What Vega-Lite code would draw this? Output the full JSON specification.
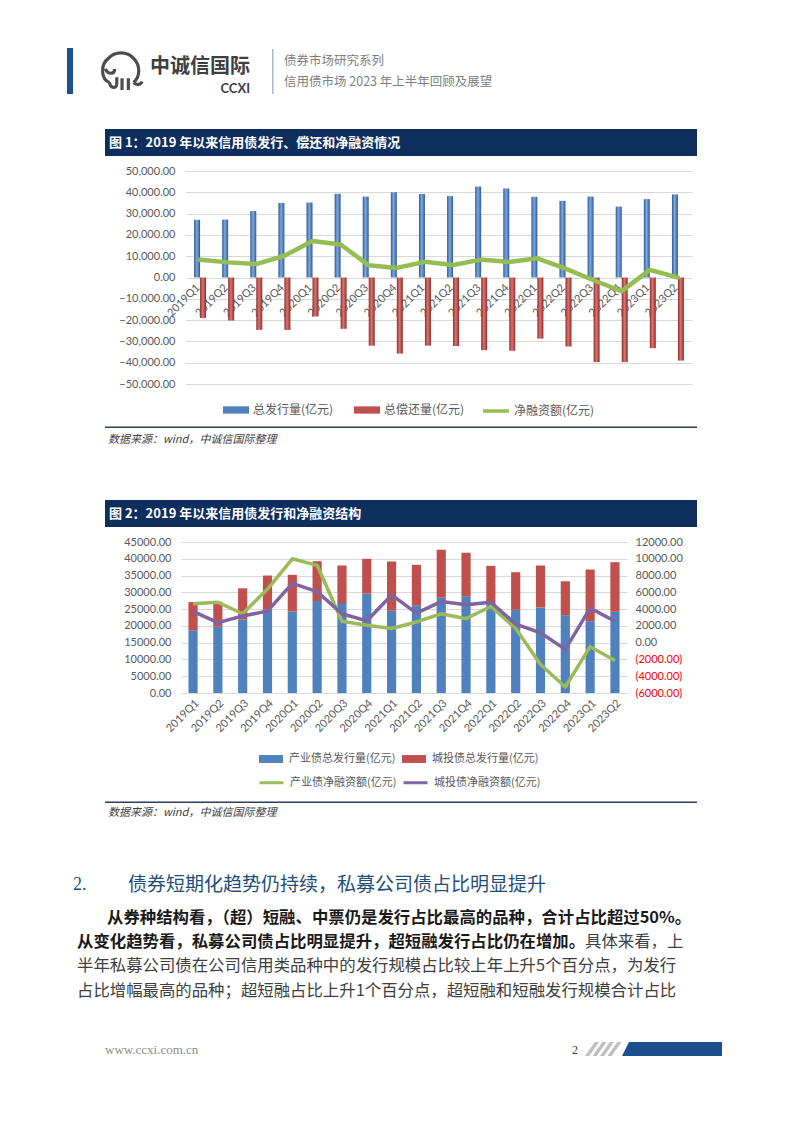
{
  "$schema": "https://vega.github.io/schema/vega-lite/v6.json",
  "background": "white",
  "padding": {"left": 67, "top": 46, "right": 0, "bottom": 0},
  "config": {
    "view": {"stroke": null},
    "font": "Noto Sans CJK SC",
    "axis": {"labelFont": "Lato", "labelColor": "#595959", "labelFontSize": 11, "titleFont": "Lato", "labelOverlap": false},
    "legend": {"labelFont": "Noto Sans CJK SC", "labelColor": "#595959"}
  },
  "datasets": {
    "c1": [
      {"q": "2019Q1", "总发行量(亿元)": 27100, "总偿还量(亿元)": -19000, "净融资额(亿元)": 8300},
      {"q": "2019Q2", "总发行量(亿元)": 27200, "总偿还量(亿元)": -20200, "净融资额(亿元)": 7100},
      {"q": "2019Q3", "总发行量(亿元)": 31200, "总偿还量(亿元)": -24600, "净融资额(亿元)": 6300},
      {"q": "2019Q4", "总发行量(亿元)": 35000, "总偿还量(亿元)": -24600, "净融资额(亿元)": 10200},
      {"q": "2020Q1", "总发行量(亿元)": 35200, "总偿还量(亿元)": -18300, "净融资额(亿元)": 17100},
      {"q": "2020Q2", "总发行量(亿元)": 39300, "总偿还量(亿元)": -24100, "净融资额(亿元)": 15500},
      {"q": "2020Q3", "总发行量(亿元)": 38000, "总偿还量(亿元)": -32000, "净融资额(亿元)": 5700},
      {"q": "2020Q4", "总发行量(亿元)": 40000, "总偿还量(亿元)": -35700, "净融资额(亿元)": 4500},
      {"q": "2021Q1", "总发行量(亿元)": 39200, "总偿还量(亿元)": -32000, "净融资额(亿元)": 7400},
      {"q": "2021Q2", "总发行量(亿元)": 38200, "总偿还量(亿元)": -32200, "净融资额(亿元)": 5900},
      {"q": "2021Q3", "总发行量(亿元)": 42700, "总偿还量(亿元)": -34100, "净融资额(亿元)": 8400},
      {"q": "2021Q4", "总发行量(亿元)": 41800, "总偿还量(亿元)": -34400, "净融资额(亿元)": 7300},
      {"q": "2022Q1", "总发行量(亿元)": 37900, "总偿还量(亿元)": -28700, "净融资额(亿元)": 9000},
      {"q": "2022Q2", "总发行量(亿元)": 36000, "总偿还量(亿元)": -32400, "净融资额(亿元)": 4200},
      {"q": "2022Q3", "总发行量(亿元)": 38000, "总偿还量(亿元)": -39700, "净融资额(亿元)": -1300},
      {"q": "2022Q4", "总发行量(亿元)": 33300, "总偿还量(亿元)": -39700, "净融资额(亿元)": -6400},
      {"q": "2023Q1", "总发行量(亿元)": 36800, "总偿还量(亿元)": -33200, "净融资额(亿元)": 3600},
      {"q": "2023Q2", "总发行量(亿元)": 39000, "总偿还量(亿元)": -39000, "净融资额(亿元)": 0}
    ],
    "c2": [
      {"q": "2019Q1", "产业债总发行量(亿元)": 18700, "城投债总发行量(亿元)": 8400, "产业债净融资额(亿元)": 4630, "城投债净融资额(亿元)": 3730},
      {"q": "2019Q2", "产业债总发行量(亿元)": 19900, "城投债总发行量(亿元)": 7300, "产业债净融资额(亿元)": 4820, "城投债净融资额(亿元)": 2390},
      {"q": "2019Q3", "产业债总发行量(亿元)": 21900, "城投债总发行量(亿元)": 9300, "产业债净融资额(亿元)": 3450, "城投债净融资额(亿元)": 3180},
      {"q": "2019Q4", "产业债总发行量(亿元)": 24800, "城投债总发行量(亿元)": 10200, "产业债净融资额(亿元)": 6390, "城投债净融资额(亿元)": 3760},
      {"q": "2020Q1", "产业债总发行量(亿元)": 24300, "城投债总发行量(亿元)": 10900, "产业债净融资额(亿元)": 10000, "城投债净融资额(亿元)": 7060},
      {"q": "2020Q2", "产业债总发行量(亿元)": 27400, "城投债总发行量(亿元)": 11900, "产业债净融资额(亿元)": 9220, "城投债净融资额(亿元)": 6080},
      {"q": "2020Q3", "产业债总发行量(亿元)": 26800, "城投债总发行量(亿元)": 11200, "产业债净融资额(亿元)": 2550, "城投债净融资额(亿元)": 3450},
      {"q": "2020Q4", "产业债总发行量(亿元)": 29600, "城投债总发行量(亿元)": 10400, "产业债净融资额(亿元)": 2080, "城投债净融资额(亿元)": 2590},
      {"q": "2021Q1", "产业债总发行量(亿元)": 24500, "城投债总发行量(亿元)": 14700, "产业债净融资额(亿元)": 1690, "城投债净融资额(亿元)": 5690},
      {"q": "2021Q2", "产业债总发行量(亿元)": 26000, "城投债总发行量(亿元)": 12200, "产业债净融资额(亿元)": 2470, "城投债净融资额(亿元)": 3530},
      {"q": "2021Q3", "产业债总发行量(亿元)": 28500, "城投债总发行量(亿元)": 14200, "产业债净融资额(亿元)": 3450, "城投债净融资额(亿元)": 4900},
      {"q": "2021Q4", "产业债总发行量(亿元)": 28800, "城投债总发行量(亿元)": 13000, "产业债净融资额(亿元)": 2860, "城投债净融资额(亿元)": 4510},
      {"q": "2022Q1", "产业债总发行量(亿元)": 26800, "城投债总发行量(亿元)": 11100, "产业债净融资额(亿元)": 4310, "城投债净融资额(亿元)": 4820},
      {"q": "2022Q2", "产业债总发行量(亿元)": 24800, "城投债总发行量(亿元)": 11200, "产业债净融资额(亿元)": 1690, "城投债净融资额(亿元)": 2200},
      {"q": "2022Q3", "产业债总发行量(亿元)": 25500, "城投债总发行量(亿元)": 12500, "产业债净融资额(亿元)": -2600, "城投债净融资额(亿元)": 1180},
      {"q": "2022Q4", "产业债总发行量(亿元)": 23200, "城投债总发行量(亿元)": 10100, "产业债净融资额(亿元)": -5280, "城投债净融资额(亿元)": -800},
      {"q": "2023Q1", "产业债总发行量(亿元)": 21400, "城投债总发行量(亿元)": 15400, "产业债净融资额(亿元)": -480, "城投债净融资额(亿元)": 4120},
      {"q": "2023Q2", "产业债总发行量(亿元)": 24200, "城投债总发行量(亿元)": 14800, "产业债净融资额(亿元)": -2120, "城投债净融资额(亿元)": 2550}
    ]
  },
  "concat": [
    {
      "width": 511,
      "height": 213,
      "data": {"name": "c1"},
      "layer": [
        {
          "transform": [{"fold": ["总发行量(亿元)", "总偿还量(亿元)"], "as": ["s", "v"]}],
          "mark": {"type": "bar"},
          "encoding": {
            "x": {"field": "q", "type": "nominal", "sort": null,
              "scale": {"paddingInner": 0.573, "paddingOuter": 0.287, "range": [5, 511]},
              "axis": {"title": null, "labelAngle": -45, "offset": -106.5, "domain": false, "ticks": false, "grid": false, "labelPadding": 4, "labelOffset": -6, "labelFontSize": 11}},
            "xOffset": {"field": "s", "type": "nominal", "sort": null, "scale": {"domain": ["总发行量(亿元)", "总偿还量(亿元)"], "paddingInner": 0, "paddingOuter": 0}},
            "y": {"field": "v", "type": "quantitative",
              "scale": {"domain": [-50000, 50000], "nice": false, "zero": false},
              "axis": {"title": null, "values": [-50000, -40000, -30000, -20000, -10000, 0, 10000, 20000, 30000, 40000, 50000], "format": ",.2f", "domain": false, "ticks": false, "gridColor": "#d9d9d9", "labelPadding": 6, "labelOverlap": false}},
            "color": {
              "condition": [
                {"test": "datum.s === '总发行量(亿元)'", "value": {"gradient": "linear", "x1": 0, "y1": 0, "x2": 1, "y2": 0, "stops": [{"offset": 0, "color": "#2b5a94"}, {"offset": 0.45, "color": "#7fa9dd"}, {"offset": 1, "color": "#2b5a94"}]}},
                {"test": "datum.s === '总偿还量(亿元)'", "value": {"gradient": "linear", "x1": 0, "y1": 0, "x2": 1, "y2": 0, "stops": [{"offset": 0, "color": "#8b2d2b"}, {"offset": 0.45, "color": "#de7370"}, {"offset": 1, "color": "#8b2d2b"}]}}
              ],
              "field": "s", "type": "nominal",
              "scale": {"domain": ["总发行量(亿元)", "总偿还量(亿元)"], "range": ["#4F81BD", "#C0504D"]},
              "legend": {"orient": "none", "legendX": 41, "legendY": 225, "direction": "horizontal", "title": null,
                "symbolType": "M-1,-0.28H1V0.28H-1Z", "symbolSize": 676, "labelFontSize": 12, "columnPadding": 19, "labelOffset": 3}
            }
          }
        },
        {
          "transform": [{"fold": ["净融资额(亿元)"], "as": ["s3", "v3"]}],
          "mark": {"type": "line", "strokeWidth": 4.5, "strokeJoin": "round", "strokeCap": "round"},
          "encoding": {
            "x": {"field": "q", "type": "nominal", "sort": null},
            "y": {"field": "v3", "type": "quantitative",
              "axis": {"title": null, "values": [-50000, -40000, -30000, -20000, -10000, 0, 10000, 20000, 30000, 40000, 50000], "format": ",.2f", "domain": false, "ticks": false, "gridColor": "#d9d9d9", "labelPadding": 6, "labelOverlap": false}},
            "stroke": {"field": "s3", "type": "nominal", "scale": {"domain": ["净融资额(亿元)"], "range": ["#94BE52"]},
              "legend": {"orient": "none", "legendX": 300, "legendY": 225, "title": null, "symbolType": "stroke", "symbolSize": 676, "symbolStrokeWidth": 3.5, "labelFontSize": 12, "labelOffset": 3}}
          }
        },
        {"data": {"values": [{}]}, "mark": {"type": "rect", "x": -114, "x2": -113, "y": -123, "y2": 329, "opacity": 0}, "encoding": {}},
        {"data": {"values": [{}]}, "mark": {"type": "rect", "x": -114, "x2": -108, "y": -123, "y2": -77, "color": "#1d4f8f"}, "encoding": {}},
        {"data": {"values": [{}]}, "mark": {"type": "point", "x": -60, "y": -100, "size": 1764, "filled": false, "stroke": "#4d4d4d", "strokeWidth": 3.2, "opacity": 1,
          "shape": "M-0.55,0.55C-0.95,0.4,-1,-0.3,-0.6,-0.6C-0.3,-0.95,0.3,-0.95,0.6,-0.6C0.95,-0.25,0.9,0.3,0.6,0.55M0.6,0.55C0.75,0.7,0.95,0.65,1,0.5M-0.55,0.55C-0.5,0.85,-0.2,0.85,-0.2,0.6L-0.2,0.3M0.05,0.35L0.05,0.9M0.35,0.35L0.35,0.9M-0.75,-0.1C-0.6,0.2,-0.3,0.15,-0.3,-0.1"}, "encoding": {}},
        {"data": {"values": [{}]}, "mark": {"type": "text", "text": "中诚信国际", "x": -31, "y": -104, "align": "left", "baseline": "middle", "fontSize": 20, "fontWeight": "bold", "color": "#404040"}, "encoding": {}},
        {"data": {"values": [{}]}, "mark": {"type": "text", "text": "CCXI", "x": 69, "y": -82, "align": "right", "baseline": "middle", "fontSize": 13, "fontWeight": "bold", "font": "Lato", "color": "#404040"}, "encoding": {}},
        {"data": {"values": [{}]}, "mark": {"type": "rect", "x": 91, "x2": 92.5, "y": -122, "y2": -77, "color": "#a6b8cf"}, "encoding": {}},
        {"data": {"values": [{}]}, "mark": {"type": "text", "text": "债券市场研究系列", "x": 103, "y": -110, "align": "left", "baseline": "middle", "fontSize": 12.5, "color": "#808080"}, "encoding": {}},
        {"data": {"values": [{}]}, "mark": {"type": "text", "text": "信用债市场 2023 年上半年回顾及展望", "x": 103, "y": -89, "align": "left", "baseline": "middle", "fontSize": 12.5, "color": "#808080"}, "encoding": {}},
        {"data": {"values": [{}]}, "mark": {"type": "rect", "x": -76, "x2": 516, "y": -42, "y2": -15, "color": "#0e2f5e"}, "encoding": {}},
        {"data": {"values": [{}]}, "mark": {"type": "text", "text": "图 1：2019 年以来信用债发行、偿还和净融资情况", "x": -72, "y": -28.5, "align": "left", "baseline": "middle", "fontSize": 13, "fontWeight": "bold", "color": "#ffffff"}, "encoding": {}},
        {"data": {"values": [{}]}, "mark": {"type": "rect", "x": -76, "x2": 516, "y": 255.5, "y2": 257, "color": "#2c3e5c"}, "encoding": {}},
        {"data": {"values": [{}]}, "mark": {"type": "text", "text": "数据来源：wind，中诚信国际整理", "x": -73, "y": 269, "align": "left", "baseline": "middle", "fontSize": 11, "fontStyle": "italic", "color": "#404040"}, "encoding": {}}
      ]
    },
    {
      "width": 446,
      "height": 151,
      "data": {"name": "c2"},
      "layer": [
        {
          "transform": [{"fold": ["产业债总发行量(亿元)", "城投债总发行量(亿元)"], "as": ["s", "v"]}],
          "mark": {"type": "bar"},
          "encoding": {
            "x": {"field": "q", "type": "nominal", "sort": null,
              "scale": {"paddingInner": 0.63, "paddingOuter": 0.3},
              "axis": {"title": null, "labelAngle": -45, "domain": false, "ticks": false, "grid": false, "labelPadding": 4, "labelFontSize": 11}},
            "y": {"field": "v", "type": "quantitative", "stack": "zero",
              "scale": {"domain": [0, 45000], "nice": false},
              "axis": {"title": null, "values": [0, 5000, 10000, 15000, 20000, 25000, 30000, 35000, 40000, 45000], "format": ".2f", "domain": false, "ticks": false, "gridColor": "#d9d9d9", "labelPadding": 10}},
            "color": {"field": "s", "type": "nominal",
              "scale": {"domain": ["产业债总发行量(亿元)", "城投债总发行量(亿元)"], "range": ["#4F81BD", "#C0504D"]},
              "legend": {"orient": "none", "legendX": 77, "legendY": 204, "direction": "horizontal", "title": null,
                "symbolType": "M-1,-0.33H1V0.33H-1Z", "symbolSize": 576, "labelFontSize": 11, "columnPadding": 5, "labelOffset": 5}},
            "order": {"field": "s", "sort": "ascending"}
          }
        },
        {
          "transform": [{"fold": ["产业债净融资额(亿元)", "城投债净融资额(亿元)"], "as": ["s2", "v2"]}],
          "mark": {"type": "line", "strokeWidth": 3.5, "strokeJoin": "round"},
          "encoding": {
            "x": {"field": "q", "type": "nominal", "sort": null},
            "y": {"field": "v2", "type": "quantitative",
              "scale": {"domain": [-6000, 12000], "nice": false, "zero": false},
              "axis": {"orient": "right", "title": null, "values": [-6000, -4000, -2000, 0, 2000, 4000, 6000, 8000, 10000, 12000],
                "labelExpr": "datum.value < 0 ? '(' + format(-datum.value, '.2f') + ')' : format(datum.value, '.2f')",
                "labelColor": {"condition": {"test": "datum.value < 0", "value": "#ff0000"}, "value": "#595959"},
                "grid": false, "domain": false, "ticks": false, "labelPadding": 8}},
            "stroke": {"field": "s2", "type": "nominal",
              "scale": {"domain": ["产业债净融资额(亿元)", "城投债净融资额(亿元)"], "range": ["#9BBB59", "#8064A2"]},
              "legend": {"orient": "none", "legendX": 77, "legendY": 227, "direction": "horizontal", "title": null,
                "symbolType": "stroke", "symbolSize": 576, "symbolStrokeWidth": 3, "labelFontSize": 11, "columnPadding": 0, "labelOffset": 5}}
          }
        },
        {"data": {"values": [{}]}, "mark": {"type": "rect", "x": -114, "x2": -113, "y": -42, "y2": -41, "opacity": 0}, "encoding": {}},
        {"data": {"values": [{}]}, "mark": {"type": "rect", "x": -76, "x2": 516, "y": -42, "y2": -15, "color": "#0e2f5e"}, "encoding": {}},
        {"data": {"values": [{}]}, "mark": {"type": "text", "text": "图 2：2019 年以来信用债发行和净融资结构", "x": -72, "y": -28.5, "align": "left", "baseline": "middle", "fontSize": 13, "fontWeight": "bold", "color": "#ffffff"}, "encoding": {}},
        {"data": {"values": [{}]}, "mark": {"type": "rect", "x": -76, "x2": 516, "y": 259.5, "y2": 261, "color": "#2c3e5c"}, "encoding": {}},
        {"data": {"values": [{}]}, "mark": {"type": "text", "text": "数据来源：wind，中诚信国际整理", "x": -73, "y": 271, "align": "left", "baseline": "middle", "fontSize": 11, "fontStyle": "italic", "color": "#404040"}, "encoding": {}},
        {"data": {"values": [{}]}, "mark": {"type": "text", "text": "2.", "x": -108, "y": 343, "align": "left", "baseline": "middle", "fontSize": 18, "font": "Liberation Serif", "color": "#1f4e79"}, "encoding": {}},
        {"data": {"values": [{}]}, "mark": {"type": "text", "text": "债券短期化趋势仍持续，私募公司债占比明显提升", "x": -53, "y": 343, "align": "left", "baseline": "middle", "fontSize": 19, "color": "#1f4e79"}, "encoding": {}},
        {"data": {"values": [{}]}, "mark": {"type": "text", "text": "从券种结构看，（超）短融、中票仍是发行占比最高的品种，合计占比超过50%。", "x": -74, "y": 376, "align": "left", "baseline": "middle", "fontSize": 16.4, "fontWeight": "bold", "color": "#1a1a1a"}, "encoding": {}},
        {"data": {"values": [{}]}, "mark": {"type": "text", "text": "从变化趋势看，私募公司债占比明显提升，超短融发行占比仍在增加。", "x": -104, "y": 400, "align": "left", "baseline": "middle", "fontSize": 16.4, "fontWeight": "bold", "color": "#1a1a1a"}, "encoding": {}},
        {"data": {"values": [{}]}, "mark": {"type": "text", "text": "具体来看，上", "x": 404, "y": 400, "align": "left", "baseline": "middle", "fontSize": 16.4, "color": "#404040"}, "encoding": {}},
        {"data": {"values": [{}]}, "mark": {"type": "text", "text": "半年私募公司债在公司信用类品种中的发行规模占比较上年上升5个百分点，为发行", "x": -104, "y": 424, "align": "left", "baseline": "middle", "fontSize": 16.4, "color": "#404040"}, "encoding": {}},
        {"data": {"values": [{}]}, "mark": {"type": "text", "text": "占比增幅最高的品种；超短融占比上升1个百分点，超短融和短融发行规模合计占比", "x": -104, "y": 449, "align": "left", "baseline": "middle", "fontSize": 16.4, "color": "#404040"}, "encoding": {}},
        {"data": {"values": [{}]}, "mark": {"type": "text", "text": "www.ccxi.com.cn", "x": -76, "y": 508, "align": "left", "baseline": "middle", "fontSize": 13, "font": "Liberation Serif", "color": "#8c8c8c"}, "encoding": {}},
        {"data": {"values": [{}]}, "mark": {"type": "text", "text": "2", "x": 391, "y": 508, "align": "left", "baseline": "middle", "fontSize": 12, "font": "Liberation Serif", "color": "#404040"}, "encoding": {}},
        {"data": {"values": [{}]}, "mark": {"type": "point", "x": 411, "y": 507, "size": 196, "filled": true, "color": "#bfbfbf", "opacity": 1, "strokeWidth": 0, "shape": "M-1,1L-0.4,1L1,-1L0.4,-1Z"}, "encoding": {}},
        {"data": {"values": [{}]}, "mark": {"type": "point", "x": 418.5, "y": 507, "size": 196, "filled": true, "color": "#bfbfbf", "opacity": 1, "strokeWidth": 0, "shape": "M-1,1L-0.4,1L1,-1L0.4,-1Z"}, "encoding": {}},
        {"data": {"values": [{}]}, "mark": {"type": "point", "x": 426, "y": 507, "size": 196, "filled": true, "color": "#bfbfbf", "opacity": 1, "strokeWidth": 0, "shape": "M-1,1L-0.4,1L1,-1L0.4,-1Z"}, "encoding": {}},
        {"data": {"values": [{}]}, "mark": {"type": "point", "x": 433.5, "y": 507, "size": 196, "filled": true, "color": "#bfbfbf", "opacity": 1, "strokeWidth": 0, "shape": "M-1,1L-0.4,1L1,-1L0.4,-1Z"}, "encoding": {}},
        {"data": {"values": [{}]}, "mark": {"type": "point", "x": 491, "y": 507, "size": 10000, "filled": true, "color": "#1d4f8f", "opacity": 1, "strokeWidth": 0, "shape": "M-1,0.14L-0.86,-0.14L1,-0.14L1,0.14Z"}, "encoding": {}}
      ],
      "resolve": {"scale": {"y": "independent"}}
    }
  ],
  "columns": 1,
  "spacing": 0,
  "resolve": {"scale": {"color": "independent", "stroke": "independent"}}
}
